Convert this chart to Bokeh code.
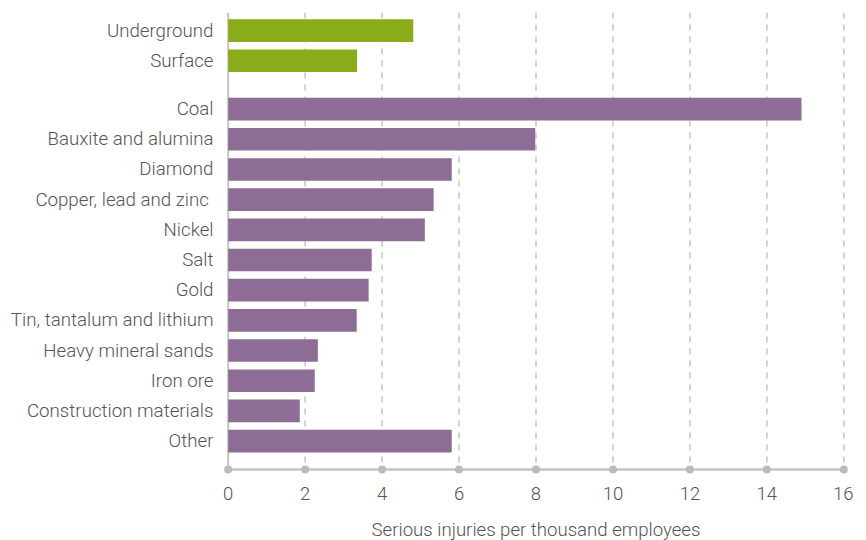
from bokeh.plotting import figure
from bokeh.models import Range1d, FixedTicker, ColumnDataSource
from bokeh.embed import file_html
from bokeh.resources import INLINE

# ---- data ----
categories = ["Underground", "Surface", "Coal", "Bauxite and alumina", "Diamond",
              "Copper, lead and zinc ", "Nickel", "Salt", "Gold",
              "Tin, tantalum and lithium", "Heavy mineral sands", "Iron ore",
              "Construction materials", "Other"]
groups = ["Mine type", "Mine type"] + ["Commodity"] * 12
values = [4.81, 3.35, 14.9, 7.98, 5.81, 5.34, 5.11, 3.73, 3.65, 3.34, 2.33, 2.25, 1.86, 5.81]
x_ticks = [0, 2, 4, 6, 8, 10, 12, 14, 16]
x_label = "Serious injuries per thousand employees"

group_colors = {"Mine type": "#8aab1a", "Commodity": "#8d6c95"}

# ---- layout helpers (row units: 10 per row, gap of 6 between groups) ----
ROW = 10
GAP = 6
pos = []
off = 0
for i, g in enumerate(groups):
    if i > 0 and g != groups[i - 1]:
        off += GAP
    pos.append(i * ROW + off)
top = -6
axis_y = pos[-1] + 9.4
bottom = axis_y + 2

src = ColumnDataSource(dict(y=pos, v=values, cat=categories,
                            color=[group_colors[g] for g in groups]))

FONT = "Roboto Light"
TXT = "#555555"
GRID = "#c4c4c4"

p = figure(frame_width=631, frame_height=463, output_backend="svg", toolbar_location=None,
           x_range=Range1d(-0.2, 16.2), y_range=Range1d(bottom, top),
           min_border_left=220, min_border_top=12, min_border_right=2, min_border_bottom=50)
p.outline_line_color = None
p.xgrid.visible = False
p.ygrid.visible = False
p.background_fill_color = "white"
p.border_fill_color = "white"

# dashed gridlines
gx = [t for t in x_ticks if t != x_ticks[0]]
p.segment(x0=gx, x1=gx, y0=[top] * len(gx), y1=[axis_y] * len(gx),
          line_color=GRID, line_width=1.5, line_dash="6 6")
# vertical axis line at 0
p.segment(x0=[x_ticks[0]], x1=[x_ticks[0]], y0=[top], y1=[axis_y], line_color=GRID, line_width=2)

p.hbar(y="y", right="v", left=0, height=7.5, color="color", source=src, line_color=None)

# x axis line with dots
p.line([x_ticks[0], x_ticks[-1]], [axis_y, axis_y], line_color=GRID, line_width=2.5)
p.scatter(x_ticks, [axis_y] * len(x_ticks), size=8, color="#bbbbbb", line_color=None)

# axes
xa = p.xaxis[0]
xa.ticker = FixedTicker(ticks=x_ticks)
xa.axis_line_color = None
xa.major_tick_line_color = None
xa.minor_tick_line_color = None
xa.major_label_standoff = 5
xa.major_label_text_font = FONT
xa.major_label_text_font_size = "18.5px"
xa.major_label_text_color = TXT
xa.axis_label = x_label
xa.axis_label_text_font = FONT
xa.axis_label_text_font_size = "18.6px"
xa.axis_label_text_font_style = "normal"
xa.axis_label_text_color = TXT
xa.axis_label_standoff = 16

ya = p.yaxis[0]
ya.ticker = FixedTicker(ticks=pos)
ya.major_label_overrides = {pp: c for pp, c in zip(pos, categories)}
ya.axis_line_color = None
ya.major_tick_line_color = None
ya.minor_tick_line_color = None
ya.major_label_standoff = 1
ya.major_label_text_font = FONT
ya.major_label_text_font_size = "18.7px"
ya.major_label_text_color = TXT

open("out.html", "w").write(file_html(p, INLINE))
